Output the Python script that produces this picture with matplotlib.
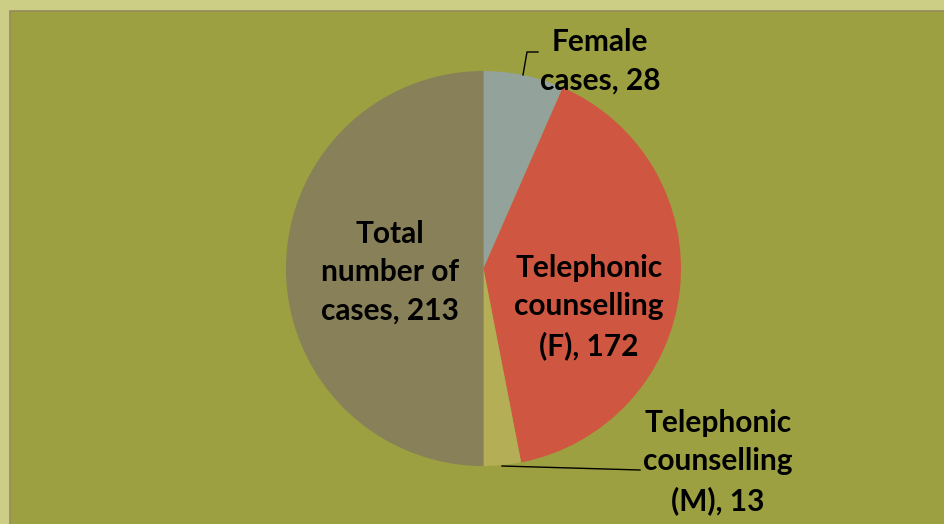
import matplotlib
matplotlib.use("Agg")
import matplotlib.pyplot as plt
from matplotlib.patches import Rectangle

labels = ["Female\ncases, 28", "Telephonic\ncounselling\n(F), 172",
          "Telephonic\ncounselling\n(M), 13", "Total\nnumber of\ncases, 213"]
values = [28, 172, 13, 213]
colors = ["#93a29b", "#cf5641", "#b4ae56", "#878058"]

W, H = 944, 524
fig = plt.figure(figsize=(W / 100, H / 100), dpi=100)
fig.patch.set_facecolor("#cdce86")
ax = fig.add_axes([0, 0, 1, 1])

# inner plot area (pixel coords, y measured from bottom)
ax.add_patch(Rectangle((9.5, -2), W, H - 10.5 + 2, facecolor="#9ca040",
                       edgecolor="#968c5c", linewidth=1.2, zorder=0))

cx, cy, r = 483.5, H - 268.5, 197.5
wedges, _ = ax.pie(values, colors=colors, startangle=90, counterclock=False,
                   center=(cx, cy), radius=r, frame=True,
                   wedgeprops=dict(linewidth=0))
ax.set_xlim(0, W)
ax.set_ylim(0, H)
ax.set_aspect("equal")
ax.axis("off")

font = dict(family=["Lato", "DejaVu Sans"], fontweight="bold", fontsize=21.5,
            color="black", ha="center", va="center", linespacing=1.45)

# inside labels
ax.text(390, H - 272, labels[3], **font)
ax.text(589, H - 307, labels[1], **font)

# outside labels with leader lines
ax.text(600, H - 61, labels[0], **font)
ax.plot([523, 527, 538], [H - 75, H - 52, H - 52], color="black", lw=1)
ax.text(718, H - 462, labels[2], **font)
ax.plot([502, 640], [H - 466, H - 470], color="black", lw=1)

fig.savefig("out.png", dpi=100, facecolor=fig.get_facecolor())
